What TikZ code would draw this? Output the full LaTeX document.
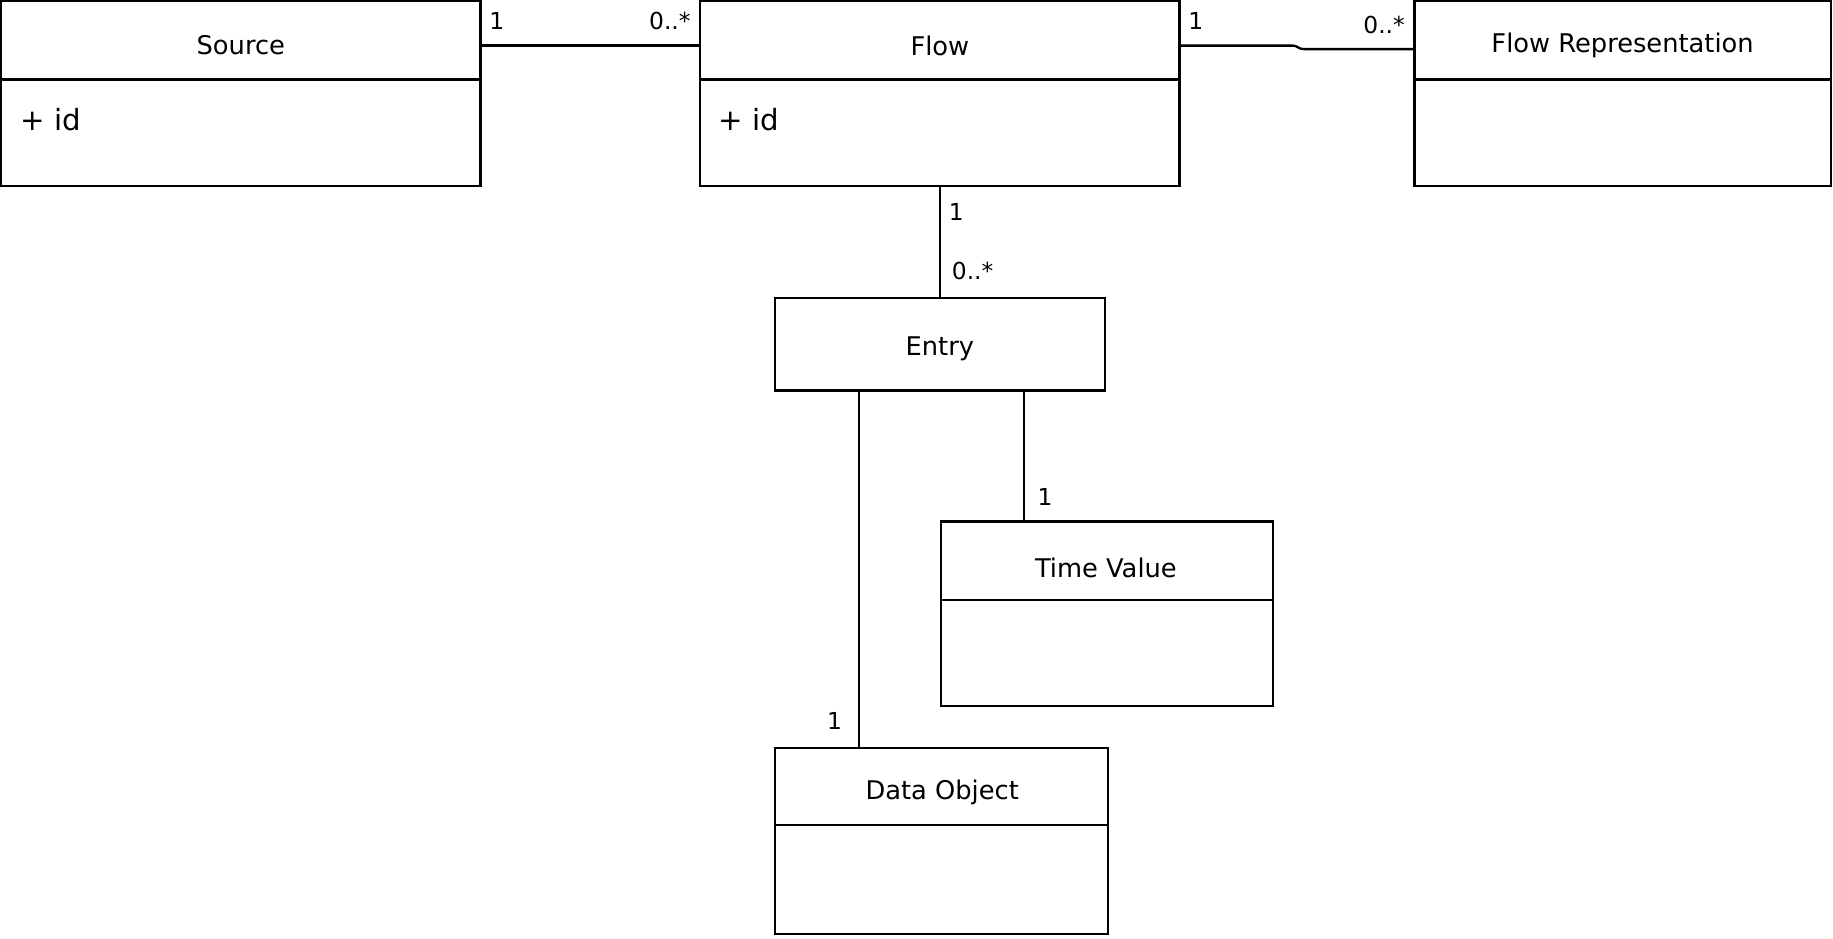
\documentclass[tikz,border=0pt]{standalone}
\usepackage{fontspec}
\setmainfont{DejaVu Sans}
\begin{document}
\begin{tikzpicture}[x=0.5pt,y=-0.5pt,line width=1pt,
  box/.style={draw,anchor=north west,inner sep=0pt,outer sep=0pt},
  ttl/.style={font=\fontsize{11}{13}\selectfont},
  attr/.style={font=\fontsize{12.5}{14}\selectfont,anchor=west},
  lab/.style={font=\fontsize{10}{12}\selectfont}]
\useasboundingbox (0,0) rectangle (1568,803);
\newcommand{\cls}[6]{% name, x1,y1,x2,y2,line y
  \node[box,minimum width=(#4-#2)*0.5pt,minimum height=(#5-#3)*0.5pt] (#1) at (#2,#3) {};
  \draw (#2,#6) -- (#4,#6);}
\cls{src}{1}{1}{411}{159}{68}
\cls{flow}{599}{1}{1009}{159}{68}
\cls{fr}{1210}{1}{1566}{159}{68}
\node[box,minimum width=141pt,minimum height=39.5pt] (entry) at (663,255) {};
\cls{tv}{805}{446}{1089}{604}{513}
\cls{dob}{663}{640}{948}{799}{706}
\node[ttl] at (206,39) {Source};
\node[ttl] at (804,39) {Flow};
\node[ttl] at (1388,39) {Flow Representation};
\node[ttl] at (804,298) {Entry};
\node[ttl] at (946,486) {Time Value};
\node[ttl] at (806,678) {Data Object};
\node[attr] at (10,102) {+ id};
\node[attr] at (607,102) {+ id};
\coordinate (a1) at (411,39); \coordinate (a2) at (599,39);
\draw (a1) -- (a2);
\coordinate (b1) at (1009,39); \coordinate (b2) at (1210,42);
\draw (b1) -- (1106,39) .. controls (1110,39) and (1110,42) .. (1116,42) -- (b2);
\draw (flow.south) -- (entry.north);
\coordinate (c1) at (876,334); \coordinate (c2) at (876,446);
\draw (c1) -- (c2);
\coordinate (d1) at (735,334); \coordinate (d2) at (735,640);
\draw (d1) -- (d2);
\node[lab] at (425,18) {1};
\node[lab] at (573,18) {0..*};
\node[lab] at (1023,18) {1};
\node[lab] at (1184,21) {0..*};
\node[lab] at (818,181) {1};
\node[lab] at (832,232) {0..*};
\node[lab] at (894,425) {1};
\node[lab] at (714,617) {1};
\end{tikzpicture}
\end{document}
